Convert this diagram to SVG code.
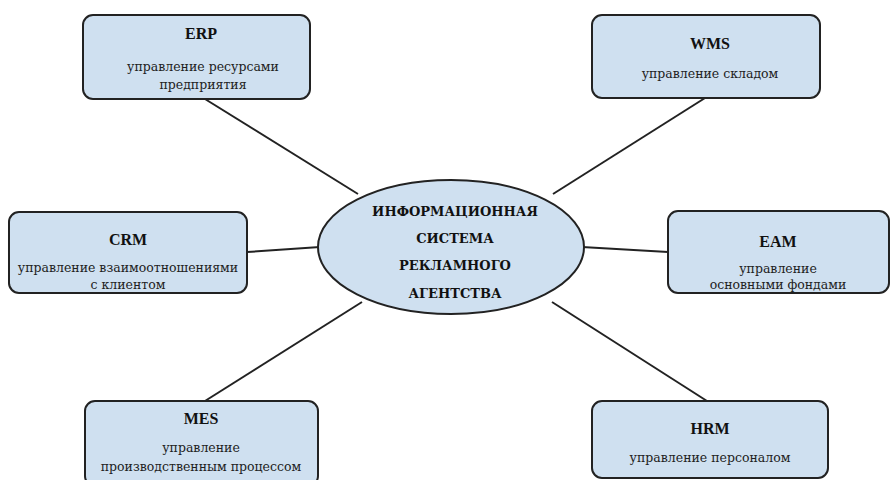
<svg xmlns="http://www.w3.org/2000/svg" width="892" height="480" viewBox="0 0 892 480">
<style>
.box{fill:#cfe0f0;stroke:#222;stroke-width:2}
.t{font-family:"Liberation Serif","DejaVu Serif",serif;font-size:16px;font-weight:bold;fill:#111;text-anchor:middle}
.d{font-family:"DejaVu Serif",serif;font-size:12.5px;fill:#222;text-anchor:middle}
.c{font-family:"DejaVu Serif",serif;font-size:13px;font-weight:bold;fill:#111;text-anchor:middle}
.ln{stroke:#222;stroke-width:2;fill:none}
</style>
<rect width="892" height="480" fill="#fff"/>
<g id="connectors">
<line class="ln" x1="205" y1="99" x2="358" y2="194"/>
<line class="ln" x1="705" y1="98" x2="553" y2="194"/>
<line class="ln" x1="247" y1="252" x2="320" y2="247"/>
<line class="ln" x1="668" y1="252" x2="582" y2="247"/>
<line class="ln" x1="205" y1="401" x2="362" y2="302"/>
<line class="ln" x1="707" y1="401" x2="552" y2="302"/>
</g>
<g id="center">
<ellipse class="box" cx="451" cy="247" rx="133" ry="67"/>
<text class="c" x="455" y="216">ИНФОРМАЦИОННАЯ</text>
<text class="c" x="455" y="243">СИСТЕМА</text>
<text class="c" x="455" y="270">РЕКЛАМНОГО</text>
<text class="c" x="455" y="298">АГЕНТСТВА</text>
</g>
<g id="erp">
<rect class="box" x="83" y="15" width="227" height="84" rx="10"/>
<text class="t" x="201" y="39">ERP</text>
<text class="d" x="203" y="71">управление ресурсами</text>
<text class="d" x="203" y="89">предприятия</text>
</g>
<g id="wms">
<rect class="box" x="592" y="15" width="228" height="83" rx="10"/>
<text class="t" x="710" y="49">WMS</text>
<text class="d" x="710" y="78">управление складом</text>
</g>
<g id="crm">
<rect class="box" x="9" y="212" width="238" height="81" rx="10"/>
<text class="t" x="128" y="245">CRM</text>
<text class="d" x="128" y="272">управление взаимоотношениями</text>
<text class="d" x="128" y="289">с клиентом</text>
</g>
<g id="eam">
<rect class="box" x="668" y="211" width="221" height="82" rx="10"/>
<text class="t" x="778" y="247">EAM</text>
<text class="d" x="778" y="273">управление</text>
<text class="d" x="778" y="289">основными фондами</text>
</g>
<g id="mes">
<rect class="box" x="85" y="401" width="233" height="85" rx="10"/>
<text class="t" x="201" y="424">MES</text>
<text class="d" x="201" y="452">управление</text>
<text class="d" x="201" y="471">производственным  процессом</text>
</g>
<g id="hrm">
<rect class="box" x="592" y="401" width="236" height="77" rx="10"/>
<text class="t" x="710" y="434">HRM</text>
<text class="d" x="710" y="462">управление персоналом</text>
</g>
</svg>
